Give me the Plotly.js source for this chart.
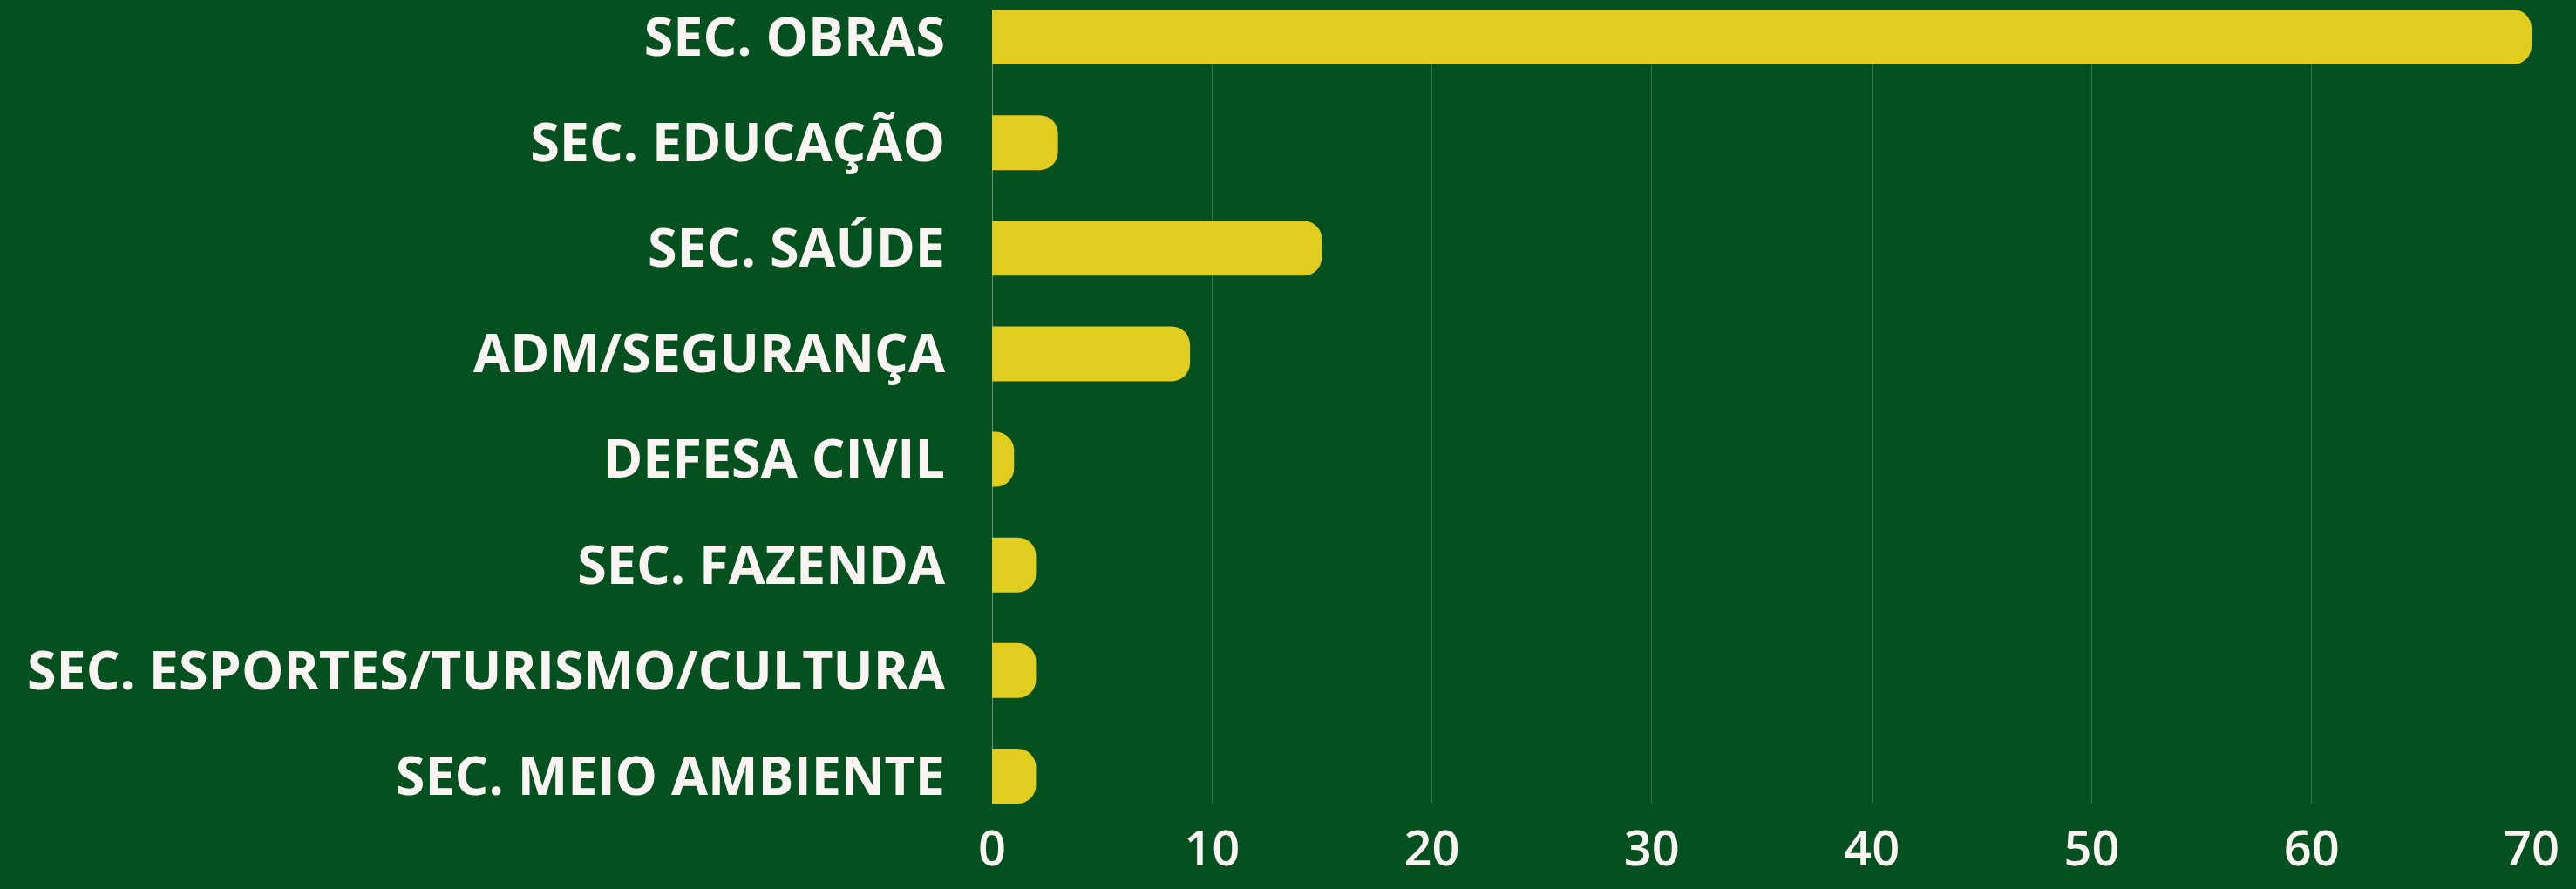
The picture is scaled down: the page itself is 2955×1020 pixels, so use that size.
<!DOCTYPE html>
<html>
<head>
<meta charset="utf-8">
<script src="https://cdn.plot.ly/plotly-3.0.1.min.js"></script>
<style>html,body{margin:0;padding:0;background:#04511f;}#chart{width:2955px;height:1020px;}</style>
</head>
<body>
<div id="chart"></div>
<script>
const categories = ["SEC. OBRAS", "SEC. EDUCAÇÃO", "SEC. SAÚDE", "ADM/SEGURANÇA", "DEFESA CIVIL", "SEC. FAZENDA", "SEC. ESPORTES/TURISMO/CULTURA", "SEC. MEIO AMBIENTE"];
const values = [70, 3, 15, 9, 1, 2, 2, 2];
const tickVals = [0, 10, 20, 30, 40, 50, 60, 70];
const tickText = ["0", "10", "20", "30", "40", "50", "60", "70"];

const trace = {
  type: "bar",
  orientation: "h",
  x: values,
  y: categories,
  marker: {color: "#e0cd1f", line: {width: 0}},
  hoverinfo: "none"
};

const layout = {
  width: 2955,
  height: 1020,
  paper_bgcolor: "#04511f",
  plot_bgcolor: "#04511f",
  margin: {l: 1138, r: 51, t: 11, b: 98},
  bargap: 0.48,
  barcornerradius: 21,
  showlegend: false,
  font: {family: "Open Sans, sans-serif", color: "#faf5f2"},
  xaxis: {
    range: [0, 70],
    tickvals: tickVals,
    ticktext: tickText,
    showgrid: true,
    gridcolor: "rgba(255,255,255,0.2)",
    gridwidth: 1,
    zeroline: true,
    zerolinecolor: "rgba(255,255,255,0.4)",
    zerolinewidth: 1,
    showline: false,
    ticks: "",
    tickfont: {family: "Open Sans", size: 56, color: "#faf5f2", weight: 600},
    ticklabelstandoff: 14
  },
  yaxis: {
    autorange: false,
    range: [7.26, -0.26],
    showgrid: false,
    zeroline: false,
    showline: false,
    ticks: "",
    tickfont: {family: "Open Sans", size: 61, color: "#faf5f2", weight: 700},
    ticklabelstandoff: 53
  }
};

Plotly.newPlot("chart", [trace], layout, {displayModeBar: false, staticPlot: true});
</script>
</body>
</html>
